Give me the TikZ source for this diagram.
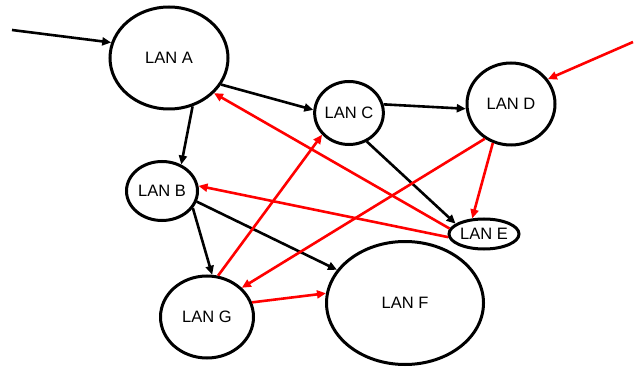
\documentclass[tikz,border=0pt]{standalone}
\usepackage{fontspec}
\setmainfont{Liberation Sans}
\usetikzlibrary{arrows.meta,shapes.geometric}
\begin{document}
\begin{tikzpicture}[x=1pt,y=-1pt,
  lan/.style={ellipse,draw=black,line width=3pt,inner sep=0pt,font=\fontsize{16.5}{19}\selectfont},
  blk/.style={draw=black,line width=2.6pt,-{Triangle[length=9pt,width=8pt]}},
  rd/.style={draw=red,line width=2.6pt,-{Triangle[length=9pt,width=8pt]}}]
\useasboundingbox (0,0) rectangle (636,371);
\node[lan,minimum width=118pt,minimum height=102pt] (A) at (169,58) {LAN A};
\node[lan,minimum width=71pt,minimum height=59pt] (B) at (162,191) {LAN B};
\node[lan,minimum width=64pt,minimum height=63pt] (C) at (349,113) {LAN C};
\node[lan,minimum width=88pt,minimum height=82pt] (D) at (511,104) {LAN D};
\node[lan,minimum width=70pt,minimum height=30pt] (E) at (484,234) {LAN E};
\node[lan,minimum width=157pt,minimum height=123pt] (F) at (405,303) {LAN F};
\node[lan,minimum width=93pt,minimum height=82pt] (G) at (207,317) {LAN G};
\coordinate (inA) at (12,30);
\coordinate (inD) at (633,42);
% black
\draw[blk] (inA) -- (A.165);
\draw[blk] (A.-64) -- (B.54);
\draw[blk] (A.-27) -- (C.175);
\draw[blk] (C.14) -- (D.186);
\draw[blk] (C.-58) -- (E.160);
\draw[blk] (B.-29) -- (G.83);
\draw[blk] (B.-17) -- (F.154);
% red
\draw[rd] (inD) -- (D.34);
\draw[rd] (D.-115) -- (E.127);
\draw[rd] (D.-127) -- (G.40);
\draw[rd] (E.171) -- (A.-38);
\draw[rd] (E.185) -- (B.8);
\draw[rd] (G.75) -- (C.219);
\draw[rd] (G.18) -- (F.173);
\end{tikzpicture}
\end{document}
